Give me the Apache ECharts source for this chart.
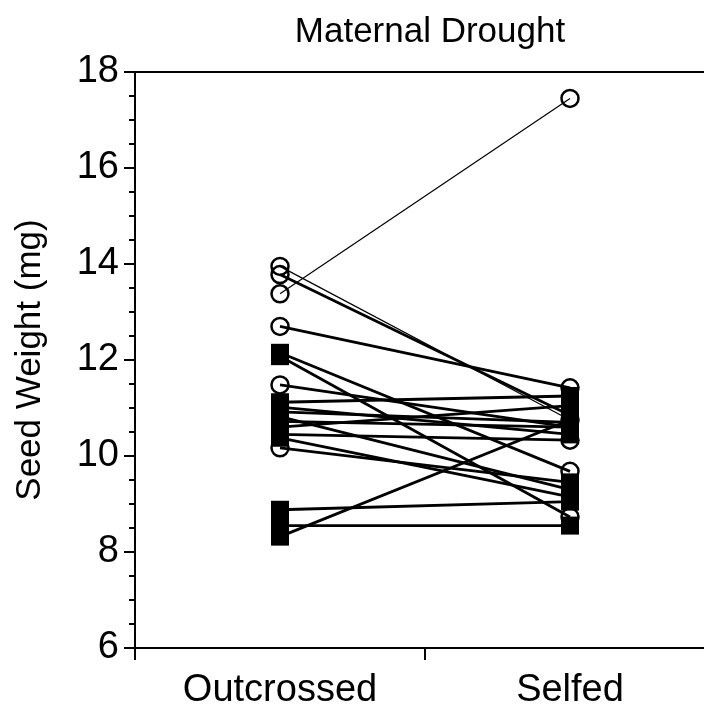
<!DOCTYPE html>
<html lang="en">
<head>
    <meta charset="UTF-8">
    <title>Maternal Drought</title>
    <script src="https://cdn.jsdelivr.net/npm/echarts@6/dist/echarts.min.js"></script>
    <style>
        html, body { margin: 0; padding: 0; background: #fff; }
        #container { width: 704px; height: 708px; }
    </style>
</head>
<body>
<div id="container"></div>
<script>
    var categories = ['Outcrossed', 'Selfed'];
    var yTicks = [6, 8, 10, 12, 14, 16, 18];

    // one entry per family: outcrossed value -> selfed value
    var outcrossed = [13.95, 13.78, 13.38, 12.7, 11.48, 10.17, 12.15, 12.08, 11.12, 11.02, 10.92, 10.82, 10.72, 10.6, 10.45, 10.38, 8.88, 8.55, 8.32];
    var selfed     = [10.75, 10.85, 17.45, 11.42, 10.6, 9.45, 9.68, 8.73, 11.25, 10.45, 10.7, 9.3, 10.6, 11.05, 10.33, 9.15, 9.05, 8.55, 10.75];
    // marker per point: c = open circle, s = filled square
    var outMarker  = ['c','c','c','c','c','c','s','s','s','s','s','s','s','s','s','s','s','s','s'];
    var selfMarker = ['c','s','c','c','s','s','c','c','s','s','s','s','s','s','c','s','s','s','s'];
    var thinLine   = [1, 0, 1, 0, 0, 0, 0, 0, 0, 0, 0, 0, 0, 0, 0, 0, 0, 0, 0];

    var circles = [];
    var squares = [];
    for (var i = 0; i < outcrossed.length; i++) {
        (outMarker[i] === 'c' ? circles : squares).push([0, outcrossed[i]]);
        (selfMarker[i] === 'c' ? circles : squares).push([1, selfed[i]]);
    }

    var series = [];
    outcrossed.forEach(function (v, i) {
        series.push({
            type: 'line',
            data: [v, selfed[i]],
            symbol: 'none',
            silent: true,
            z: 1,
            lineStyle: { color: '#000', width: thinLine[i] ? 1.2 : 2.8, opacity: 1 }
        });
    });
    series.push({
        type: 'scatter',
        data: circles,
        symbol: 'circle',
        symbolSize: 17,
        z: 3,
        itemStyle: { color: 'rgba(0,0,0,0)', borderColor: '#000', borderWidth: 2.5, opacity: 1 }
    });
    series.push({
        type: 'scatter',
        data: squares,
        symbol: 'rect',
        symbolSize: 18,
        z: 4,
        itemStyle: { color: '#000', borderColor: '#000', borderWidth: 0, opacity: 1 }
    });

    var myChart = echarts.init(document.getElementById('container'));
    var option = {
        animation: false,
        backgroundColor: '#fff',
        title: {
            text: 'Maternal Drought',
            left: 425,
            top: 10,
            textAlign: 'center',
            textStyle: { fontFamily: 'Liberation Sans', fontSize: 35, fontWeight: 'normal', color: '#000' }
        },
        grid: {
            left: 135,
            top: 72,
            width: 580,
            height: 576,
            outerBoundsMode: 'none',
            containLabel: false,
            show: true,
            borderColor: '#000',
            borderWidth: 2,
            backgroundColor: 'rgba(0,0,0,0)'
        },
        xAxis: {
            type: 'category',
            data: categories,
            boundaryGap: true,
            axisLine: { lineStyle: { color: '#000', width: 2 } },
            axisTick: { show: true, length: 12, lineStyle: { color: '#000', width: 2 } },
            axisLabel: { color: '#000', fontFamily: 'Liberation Sans', fontSize: 38, margin: 24 }
        },
        yAxis: {
            type: 'value',
            min: yTicks[0],
            max: yTicks[yTicks.length - 1],
            interval: 2,
            name: 'Seed Weight (mg)',
            nameLocation: 'middle',
            nameGap: 87,
            nameTextStyle: { color: '#000', fontFamily: 'Liberation Sans', fontSize: 35 },
            splitLine: { show: false },
            axisLine: { show: true, lineStyle: { color: '#000', width: 2 } },
            axisTick: { show: true, length: 11, lineStyle: { color: '#000', width: 2 } },
            minorTick: { show: true, splitNumber: 4, length: 6, lineStyle: { color: '#000', width: 2 } },
            axisLabel: { color: '#000', fontFamily: 'Liberation Sans', fontSize: 38, margin: 16 }
        },
        series: series
    };
    myChart.setOption(option);
</script>
</body>
</html>
